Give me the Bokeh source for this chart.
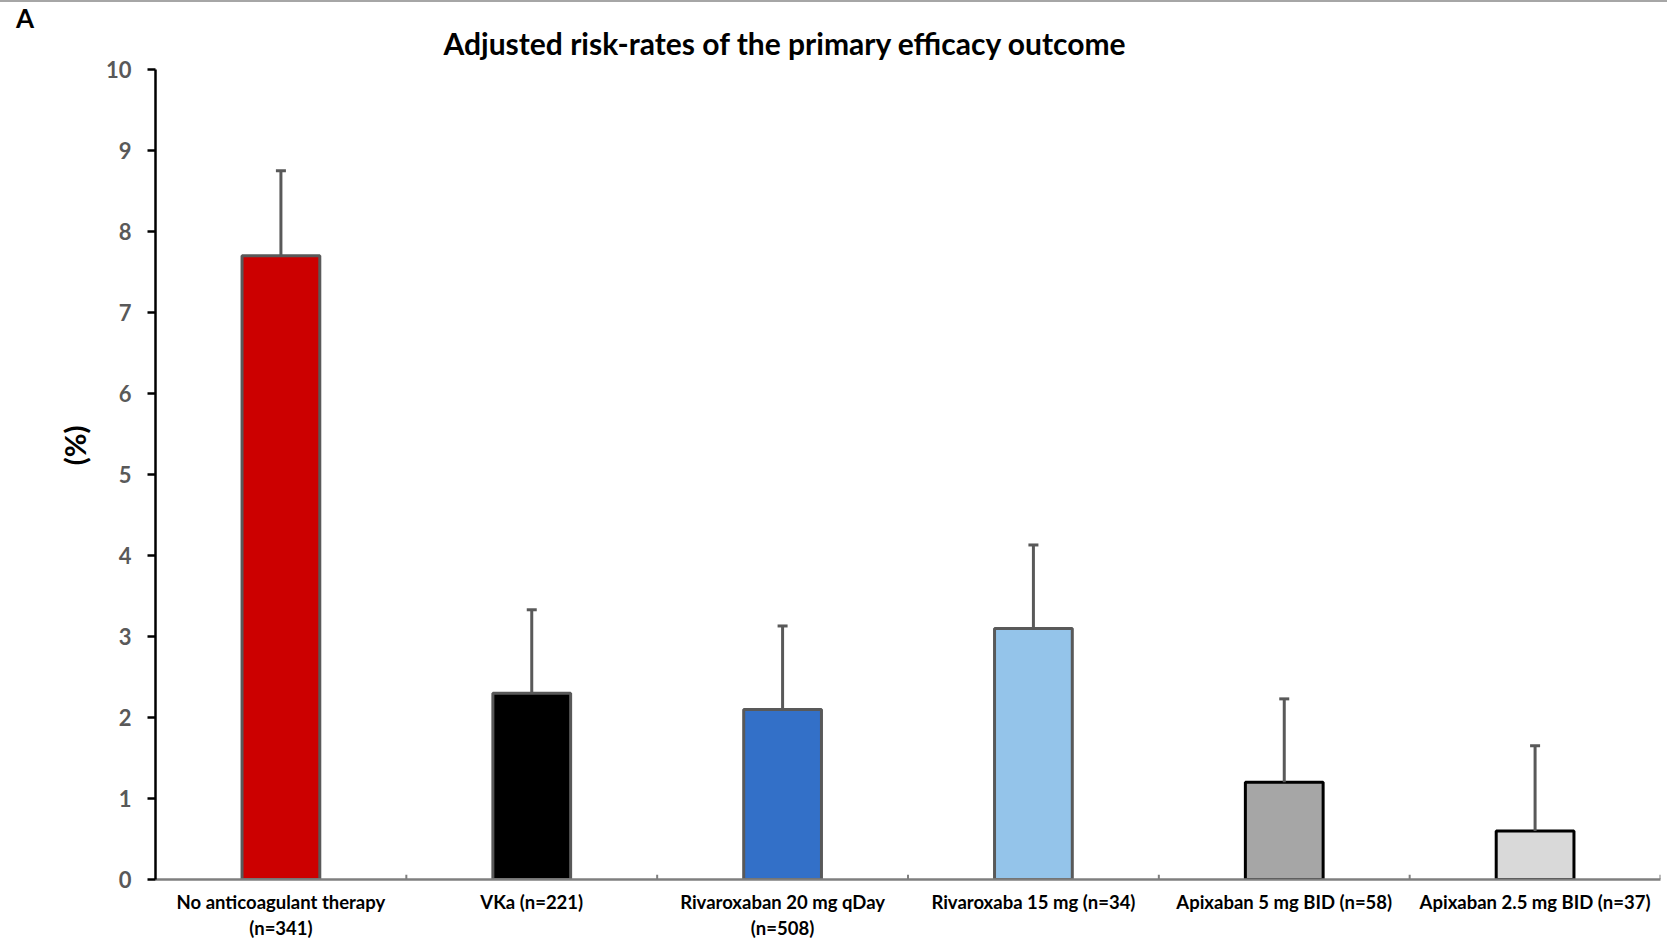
from bokeh.plotting import figure
from bokeh.models import (ColumnDataSource, FixedTicker, Title, Whisker, TeeHead, Div)
from bokeh.layouts import column, row
from bokeh.embed import file_html
from bokeh.resources import INLINE

# --- data -------------------------------------------------------------
groups = [
    "No anticoagulant therapy\n(n=341)",
    "VKa (n=221)",
    "Rivaroxaban 20 mg qDay\n(n=508)",
    "Rivaroxaba 15 mg (n=34)",
    "Apixaban 5 mg BID (n=58)",
    "Apixaban 2.5 mg BID (n=37)",
]
risk_rate = [7.7, 2.3, 2.1, 3.1, 1.2, 0.6]
upper_ci = [8.75, 3.33, 3.13, 4.13, 2.23, 1.65]
bar_colors = ["#CC0000", "#000000", "#3370C8", "#94C4EA", "#A6A6A6", "#D9D9D9"]
edge_colors = ["#595959", "#595959", "#595959", "#595959", "#000000", "#000000"]
y_ticks = [0, 1, 2, 3, 4, 5, 6, 7, 8, 9, 10]

FONT = "Lato"
pos = list(range(1, len(groups) + 1))
src = ColumnDataSource(dict(x=pos, top=risk_rate, upper=upper_ci,
                            fill=bar_colors, edge=edge_colors))

LETTER_W = 40
p = figure(width=1667 - LETTER_W, height=940, x_range=(0.5, len(groups) + 0.5), y_range=(0, 10),
           output_backend="svg", toolbar_location=None,
           min_border_left=155 - LETTER_W, min_border_right=7,
           min_border_top=67, min_border_bottom=63)
p.outline_line_color = None
p.grid.visible = False
p.background_fill_color = "white"
p.border_fill_color = "white"

# main title, shifted left of the frame centre
p.title.text = "Adjusted risk-rates of the primary efficacy outcome"
p.title.align = "left"
p.title.offset = 288
p.title.standoff = 18
p.title.text_font = FONT
p.title.text_font_style = "bold"
p.title.text_font_size = "30px"
p.title.text_color = "black"

# y axis caption
p.add_layout(Title(text="(%)", align="right", offset=356, standoff=22,
                   text_font=FONT, text_font_style="bold", text_font_size="29px",
                   text_color="black"), "left")

p.vbar(x="x", top="top", bottom=0, width=0.31, source=src,
       fill_color="fill", line_color="edge", line_width=3)

p.add_layout(Whisker(base="x", lower="top", upper="upper", source=src,
                     line_color="#595959", line_width=3,
                     upper_head=TeeHead(size=10, line_color="#595959", line_width=3),
                     lower_head=None, level="overlay"))

# category separators on the baseline
seps = [i + 0.5 for i in pos]
p.segment(x0=seps, y0=[0] * len(seps), x1=seps, y1=[0.06] * len(seps),
          line_color="#7f7f7f", line_width=2)

# y axis
ya = p.yaxis[0]
ya.ticker = FixedTicker(ticks=y_ticks)
ya.axis_line_color = "black"
ya.axis_line_width = 2.5
ya.major_tick_line_color = "black"
ya.major_tick_line_width = 2.5
ya.major_tick_out = 8
ya.major_tick_in = 0
ya.minor_tick_line_color = None
ya.major_label_text_font = FONT
ya.major_label_text_font_style = "bold"
ya.major_label_text_font_size = "22px"
ya.major_label_text_color = "#595959"
ya.major_label_standoff = 16

# x axis
xa = p.xaxis[0]
xa.ticker = FixedTicker(ticks=pos)
xa.major_label_overrides = {i: g for i, g in zip(pos, groups)}
xa.axis_line_color = "#7f7f7f"
xa.axis_line_width = 2.5
xa.major_tick_line_color = None
xa.minor_tick_line_color = None
xa.major_label_text_font = FONT
xa.major_label_text_font_style = "bold"
xa.major_label_text_font_size = "18.5px"
xa.major_label_text_color = "black"
xa.major_label_text_line_height = 1.2
xa.major_label_standoff = 5

# panel letter in a narrow column left of the plot
letter = Div(text='<div style="position:absolute;left:16px;top:1px;'
                  'font-family:Lato;font-weight:bold;font-size:26px;line-height:31px;'
                  'color:black;">A</div>',
             width=LETTER_W, height=940, margin=(0, 0, 0, 0))

rule = Div(text="", width=1667, height=2, margin=(0, 0, 0, 0),
           styles={"background-color": "#a6a6a6"})
layout = column(rule, row(letter, p, spacing=0), spacing=0)

open("out.html", "w").write(file_html(layout, INLINE))
